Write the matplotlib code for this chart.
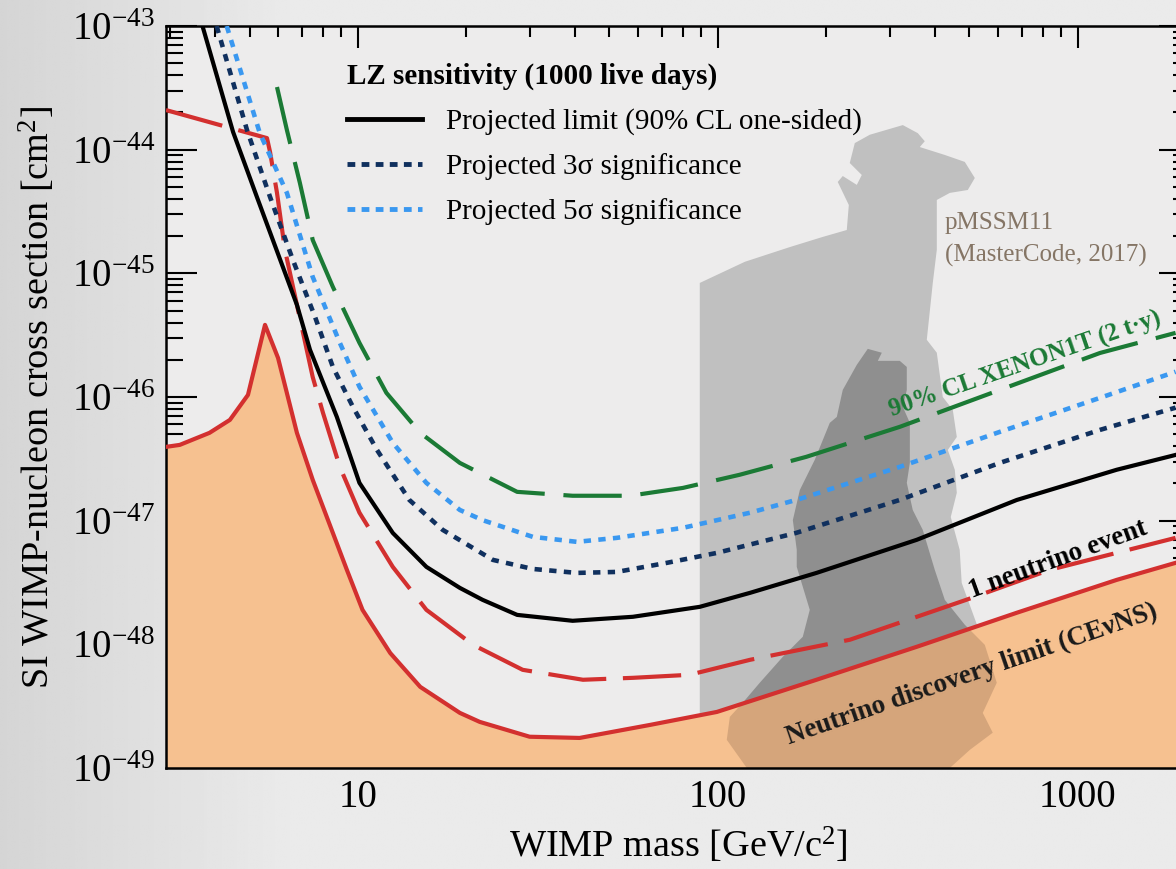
import numpy as np
import matplotlib.pyplot as plt
from matplotlib.lines import Line2D
from matplotlib import ticker

plt.rcParams['font.family'] = ['Liberation Serif', 'DejaVu Serif']
plt.rcParams['mathtext.fontset'] = 'custom'
plt.rcParams['mathtext.rm'] = 'Liberation Serif'
plt.rcParams['mathtext.it'] = 'Liberation Serif:italic'
plt.rcParams['mathtext.bf'] = 'Liberation Serif:bold'

# LZ projected limit (90% CL one-sided)
limit_mass = [3.70, 4.50, 5.24, 6.77, 7.36, 8.74, 10.1, 12.5, 15.5, 19.2, 22.2, 27.7,
              39.5, 58.1, 89.1, 123, 188, 357, 677, 1283, 1870]
limit_xs = [1.0e-43, 1.39e-44, 4.15e-45, 5.56e-46, 2.41e-46, 6.9e-47, 2.02e-47, 7.96e-48,
            4.23e-48, 2.86e-48, 2.29e-48, 1.73e-48, 1.55e-48, 1.67e-48, 2.01e-48, 2.61e-48,
            3.78e-48, 7.0e-48, 1.47e-47, 2.58e-47, 3.4e-47]

# projected 3 sigma
sig3_mass = [4.05, 4.92, 5.70, 6.60, 7.60, 8.52, 9.69, 11.3, 13.9, 17.2, 23.7, 30.6,
             40.6, 52.4, 72.2, 99.5, 165, 320, 607, 1153, 1870]
sig3_xs = [1.0e-43, 1.44e-44, 4.15e-45, 1.28e-45, 4.45e-46, 1.75e-46, 8.3e-47, 3.73e-47,
           1.47e-47, 8.43e-48, 4.82e-48, 4.07e-48, 3.78e-48, 3.85e-48, 4.56e-48, 5.49e-48,
           7.96e-48, 1.47e-47, 2.93e-47, 5.42e-47, 8.2e-47]

# projected 5 sigma
sig5_mass = [4.32, 5.34, 6.35, 7.49, 8.91, 10.1, 12.5, 15.5, 19.2, 22.2, 30.6, 40.6,
             52.4, 80.0, 123, 169, 320, 607, 1153, 1870]
sig5_xs = [1.0e-43, 1.36e-44, 4.47e-45, 9.35e-46, 2.74e-46, 1.21e-46, 4.26e-47, 2.02e-47,
           1.22e-47, 1.01e-47, 7.4e-48, 6.74e-48, 7.26e-48, 8.75e-48, 1.16e-47, 1.50e-47,
           2.72e-47, 5.22e-47, 9.84e-47, 1.60e-46]

# XENON1T 90% CL (2 t.y)
xenon_mass = [5.96, 6.35, 6.90, 7.49, 8.52, 10.1, 12.0, 14.9, 19.2, 27.7, 39.5, 57.0,
              80.0, 115, 176, 320, 607, 1153, 1870]
xenon_xs = [3.21e-44, 1.44e-44, 5.38e-45, 1.86e-45, 7.77e-46, 2.74e-46, 1.08e-46, 5.13e-47,
            2.93e-47, 1.71e-47, 1.59e-47, 1.59e-47, 1.84e-47, 2.35e-47, 3.28e-47, 5.73e-47,
            1.14e-46, 2.27e-46, 3.30e-46]

# 1 neutrino event
nu1_mass = [2.93, 5.59, 5.70, 5.96, 6.27, 6.77, 7.49, 8.0, 8.91, 10.1, 12.5, 15.5, 20.9,
            28.7, 42.2, 58.1, 83.4, 123, 233, 490, 836, 1870]
nu1_xs = [2.09e-44, 1.24e-44, 9.6e-45, 4.47e-45, 1.55e-45, 5.56e-46, 1.45e-46, 7.43e-47,
          2.72e-47, 1.16e-47, 4.23e-48, 1.90e-48, 9.9e-49, 6.22e-49, 5.17e-49, 5.36e-49,
          5.67e-49, 7.5e-49, 1.09e-48, 2.29e-48, 4.0e-48, 7.26e-48]

# neutrino discovery limit (CEvNS)
floor_mass = [2.93, 3.20, 3.87, 4.41, 4.95, 5.52, 6.0, 6.77, 7.49, 8.52, 9.32, 10.3, 12.3,
              14.9, 19.2, 21.8, 30.0, 41.3, 64.8, 99.4, 188, 357, 677, 1283, 1870]
floor_xs = [3.95e-47, 4.10e-47, 5.13e-47, 6.53e-47, 1.04e-46, 3.83e-46, 2.07e-46, 5.13e-47,
            2.14e-47, 7.96e-48, 4.0e-48, 1.90e-48, 8.5e-49, 4.53e-49, 2.79e-49, 2.36e-49,
            1.79e-49, 1.75e-49, 2.23e-49, 2.84e-49, 5.17e-49, 9.55e-49, 1.80e-48, 3.32e-48,
            4.56e-48]

# pMSSM11 (MasterCode 2017) outer region
outer_mass = [89.1, 89.1, 118.9, 158.5, 195.7, 228.2, 231.2, 215.4, 222.4, 243.3, 251.2,
              232.6, 240.2, 264.4, 326.6, 359.4, 375.8, 364.0, 427.2, 485.5, 517.6, 494.9,
              441.1, 405.9, 405.9, 395.6, 380.7, 405.9, 421.7, 449.6, 461.3, 435.5, 455.4,
              461.3, 443.8, 469.9, 476.0, 527.6, 588.1, 607.2, 576.9, 588.1, 501.2, 441.1]
outer_xs = [1e-49, 8.36e-46, 1.24e-45, 1.63e-45, 1.97e-45, 2.24e-45, 3.57e-45, 5.48e-45,
            6.12e-45, 5.19e-45, 6.24e-45, 7.80e-45, 1.13e-44, 1.32e-44, 1.58e-44, 1.36e-44,
            1.17e-44, 1.05e-44, 9.06e-45, 7.96e-45, 5.90e-45, 4.72e-45, 4.47e-45, 3.92e-45,
            1.55e-45, 8.36e-46, 2.90e-46, 2.28e-46, 1.00e-46, 7.87e-47, 4.75e-47, 3.73e-47,
            2.58e-47, 1.68e-47, 1.07e-47, 5.81e-48, 3.14e-48, 1.38e-48, 7.50e-49, 4.29e-49,
            2.45e-49, 1.85e-49, 1.35e-49, 1e-49]

# pMSSM11 inner region
core_mass = [261.0, 285.5, 278.3, 320.3, 335.0, 335.0, 326.6, 341.6, 341.6, 335.0, 348.0,
             371.0, 400.7, 427.2, 485.5, 551.7, 595.7, 544.6, 580.6, 501.2, 441.1, 120.4,
             105.9, 108.0, 117.3, 130.8, 151.6, 172.2, 180.1, 165.7, 165.7, 161.6, 169.0,
             185.9, 204.7, 214.1, 222.4, 243.3]
core_xs = [2.45e-46, 2.28e-46, 1.96e-46, 1.96e-46, 1.75e-46, 1.14e-46, 8.32e-47, 6.18e-47,
           2.93e-47, 2.02e-47, 1.22e-47, 8.43e-48, 4.00e-48, 2.29e-48, 1.44e-48, 9.91e-49,
           4.89e-49, 2.79e-49, 1.93e-49, 1.40e-49, 1e-49, 1e-49, 1.69e-49, 2.59e-49,
           3.37e-49, 4.89e-49, 7.93e-49, 1.15e-48, 1.90e-48, 4.23e-48, 5.81e-48, 1.01e-47,
           1.77e-47, 3.10e-47, 6.18e-47, 6.90e-47, 1.14e-46, 1.82e-46]

navy = '#10305e'
sky = '#3a98f0'
green = '#1b7a35'
red = '#d3302f'

fig = plt.figure(figsize=(11.76, 8.69), dpi=100)

# grey slide background, a bit darker at the left edge
bg = fig.add_axes([0, 0, 1, 1], zorder=-10)
grad = np.clip(np.linspace(0, 1, 400) / 0.25, 0, 1)
grad = 0.835 + (0.92 - 0.835) * grad
bg.imshow(np.tile(grad, (10, 1)), cmap='gray', vmin=0, vmax=1, aspect='auto',
          extent=[0, 1, 0, 1])
bg.axis('off')

ax = fig.add_axes([0.14116, 0.11623, 0.8707, 0.85386])
ax.set_facecolor('#edecec')
ax.set_xscale('log')
ax.set_yscale('log')
ax.set_xlim(2.93, 2050)
ax.set_ylim(1e-49, 1e-43)

ax.fill(outer_mass, outer_xs, color='#c0c0c0', lw=0, zorder=1)
ax.fill(core_mass, core_xs, color='#8f8f8f', lw=0, zorder=1.5)
floor_fill = ax.fill_between(floor_mass, floor_xs, 1e-50, color='#f6c190', lw=0, zorder=2)
brown = ax.fill(core_mass, core_xs, color='#d5a57b', lw=0, zorder=2.5)[0]
brown.set_clip_path(floor_fill.get_paths()[0], ax.transData)

ax.plot(xenon_mass, xenon_xs, color=green, lw=3, ls=(0, (14, 4.5)), zorder=4)
ax.plot(nu1_mass, nu1_xs, color=red, lw=3, ls=(0, (14, 4)), zorder=4)
ax.plot(sig5_mass, sig5_xs, color=sky, lw=3.3, ls=(0, (1.6, 1.6)), zorder=4)
ax.plot(sig3_mass, sig3_xs, color=navy, lw=3.3, ls=(0, (1.6, 1.6)), zorder=4)
ax.plot(limit_mass, limit_xs, color='black', lw=3, zorder=5)
ax.plot(floor_mass, floor_xs, color=red, lw=3, zorder=5)

ax.text(427, 1.88e-45, 'pMSSM11\n(MasterCode, 2017)', fontsize=18, color='#857565',
        ha='left', va='center', linespacing=1.55, zorder=6)
ax.text(713, 1.82e-46, '90% CL XENON1T (2 t\u00b7y)', fontsize=18, fontweight='bold',
        color=green, rotation=19, ha='center', va='center', rotation_mode='anchor', zorder=6)
ax.text(879, 4.82e-48, '1 neutrino event', fontsize=19.5, fontweight='bold', color='black',
        rotation=20, ha='center', va='center', rotation_mode='anchor', zorder=6)
ax.text(508, 5.66e-49, 'Neutrino discovery limit (CE\u03bdNS)', fontsize=19.5,
        fontweight='bold', color='#1a1a1a', rotation=19, ha='center', va='center',
        rotation_mode='anchor', zorder=6)

handles = [Line2D([], [], color='black', lw=3.5),
           Line2D([], [], color=navy, lw=3.5, ls=(0, (1.6, 1.3))),
           Line2D([], [], color=sky, lw=3.5, ls=(0, (1.6, 1.3)))]
labels = ['Projected limit (90% CL one-sided)',
          'Projected 3\u03c3 significance',
          'Projected 5\u03c3 significance']
leg = ax.legend(handles, labels, title='LZ sensitivity (1000 live days)', loc='upper left',
                bbox_to_anchor=(0.165, 0.966), borderaxespad=0, frameon=False, fontsize=21,
                title_fontproperties={'weight': 'bold', 'size': 21}, alignment='left',
                handlelength=2.6, handletextpad=0.8, labelspacing=0.62)
leg.set_zorder(7)

ax.xaxis.set_major_formatter(ticker.FuncFormatter(lambda v, p: '%g' % v))
ax.xaxis.set_minor_formatter(ticker.NullFormatter())
ax.tick_params(which='both', direction='in', top=True, right=True, width=1.5,
               labelsize=28, pad=8)
ax.tick_params(axis='x', which='major', length=16)
ax.tick_params(axis='x', which='minor', length=8)
ax.tick_params(axis='y', which='major', length=22)
ax.tick_params(axis='y', which='minor', length=12)
for sp in ax.spines.values():
    sp.set_linewidth(1.8)

ax.set_xlabel('WIMP mass [GeV/c$^2$]', fontsize=27.5, labelpad=7)
ax.set_ylabel('SI WIMP-nucleon cross section [cm$^2$]', fontsize=27.5, labelpad=10)

fig.savefig('out.png', dpi=100)
